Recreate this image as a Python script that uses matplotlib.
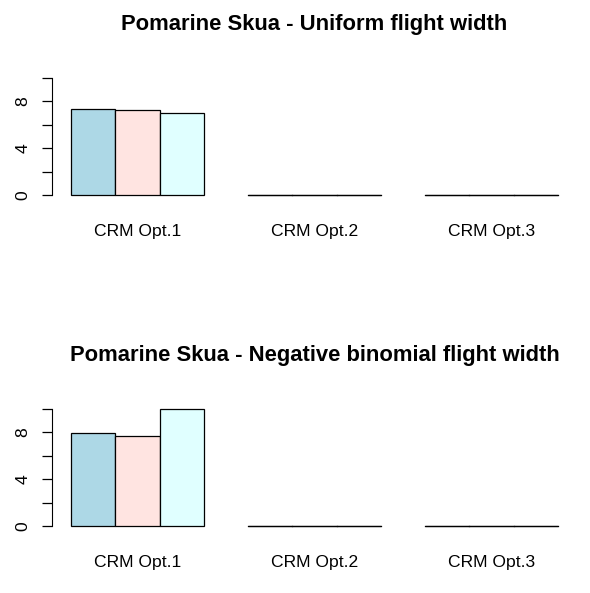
import matplotlib.pyplot as plt
import numpy as np

plt.rcParams['font.family'] = ['Liberation Sans', 'DejaVu Sans']

groups = ['CRM Opt.1', 'CRM Opt.2', 'CRM Opt.3']
titles = ['Pomarine Skua - Uniform flight width',
          'Pomarine Skua - Negative binomial flight width']
# three bars per group (one per colour), all zero for Opt.2 and Opt.3
uniform_vals = [[7.3, 7.2, 7.0], [0, 0, 0], [0, 0, 0]]
negbin_vals = [[7.95, 7.7, 9.95], [0, 0, 0], [0, 0, 0]]
bar_colours = ['#ADD8E6', '#FFE4E1', '#E0FFFF']

fig = plt.figure(figsize=(5.9, 5.93), dpi=100)
ax_top = fig.add_axes([0.0873, 0.6632, 0.8915, 0.2140])
ax_bot = fig.add_axes([0.0873, 0.1046, 0.8915, 0.2141])

for ax, vals, title in [(ax_top, uniform_vals, titles[0]), (ax_bot, negbin_vals, titles[1])]:
    # R barplot(beside=TRUE) layout: space of 1 bar between groups
    for g, grp in enumerate(vals):
        start = 1 + g * 4
        for i, v in enumerate(grp):
            ax.bar(start + i, v, width=1, align='edge', color=bar_colours[i],
                   edgecolor='black', linewidth=0.9)
            if v == 0:
                ax.plot([start + i, start + i + 1], [0, 0], color='black', lw=0.9)
    ax.set_xlim(1 - 0.44, 12 + 0.44)
    ax.set_ylim(-0.4, 10.4)
    for s in ['top', 'right', 'bottom']:
        ax.spines[s].set_visible(False)
    ax.spines['left'].set_bounds(0, 10)
    ax.spines['left'].set_position(('data', 0.56))
    ax.set_yticks([0, 2, 4, 6, 8, 10])
    ax.set_yticklabels(['0', '', '4', '', '8', ''], rotation=90, va='center', fontsize=12.6)
    ax.tick_params(axis='y', length=7, width=0.9, pad=8)
    ax.set_xticks([2.5 + 4 * g for g in range(3)])
    ax.set_xticklabels(groups, fontsize=12.6)
    ax.tick_params(axis='x', length=0, pad=17.5)
    ax.set_title(title, fontsize=15.8, fontweight='bold', pad=31)

plt.savefig('out.png', dpi=100)
plt.close()
